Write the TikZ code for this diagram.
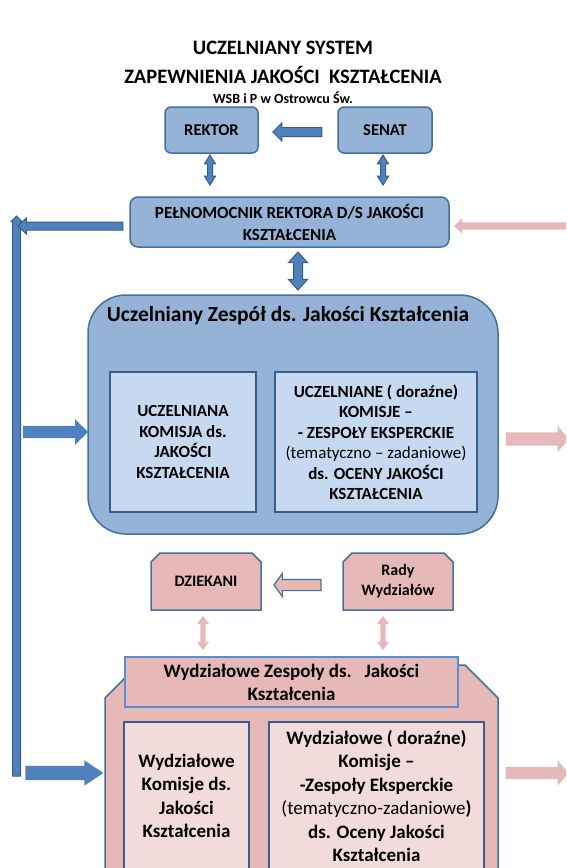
\documentclass[tikz,border=0pt]{standalone}
\usepackage{fontspec}
\setmainfont{Carlito}
\usetikzlibrary{shapes.arrows,calc,backgrounds}
\definecolor{blfill}{HTML}{95B3D7}
\definecolor{bledge}{HTML}{41719C}
\definecolor{bllight}{HTML}{C6D9F1}
\definecolor{blarrow}{HTML}{4F81BD}
\definecolor{bldark}{HTML}{385D8A}
\definecolor{pkfill}{HTML}{E6B9B8}
\definecolor{pklight}{HTML}{F2DCDB}
\definecolor{pkedge}{HTML}{558ED5}
\tikzset{
  ttl/.style={font=\bfseries\fontsize{20.5}{24}\selectfont},
  topbox/.style={draw=bledge, line width=1.5pt, fill=blfill, rounded corners=6pt, align=center, font=\bfseries\fontsize{16.5}{20}\selectfont},
  inblue/.style={draw=bldark, line width=1.5pt, fill=bllight, align=center, font=\bfseries\fontsize{17}{20.5}\selectfont},
  pinktxt/.style={align=center, font=\bfseries\fontsize{16}{20}\selectfont},
  pinkshape/.style={draw=bledge, line width=1.5pt, fill=pkfill, line join=round},
  inpink/.style={draw=bldark, line width=1.5pt, fill=pklight, align=center, font=\bfseries\fontsize{19}{23.5}\selectfont},
  barr/.style={single arrow, draw=bldark, line width=1pt, fill=blarrow},
  dbarr/.style={double arrow, draw=bldark, line width=1pt, fill=blarrow},
  flatarr/.style={single arrow, fill=blarrow},
  pkarr/.style={single arrow, fill=pkfill},
  pkdbarr/.style={double arrow, fill=pkfill}
}
% outline with the two top corners cut off, behind node #1
\newcommand\cutbox[2]{%
  \begin{scope}[on background layer]
  \path[pinkshape] ($(#1.north west)+(0,#2)$) -- ($(#1.north west)+(#2,0)$) -- ($(#1.north east)+(-#2,0)$)
    -- ($(#1.north east)+(0,#2)$) -- (#1.south east) -- (#1.south west) -- cycle;
  \end{scope}}
\begin{document}
\begin{tikzpicture}[x=1pt, y=-1pt, every node/.style={inner sep=0pt, outer sep=0pt}]
\clip (0,0) rectangle (566,868);
% title
\node[ttl] (ttla) at (283,48) {UCZELNIANY SYSTEM};
\node[ttl] (ttlb) at (283,75) {ZAPEWNIENIA JAKOŚCI\ \ KSZTAŁCENIA};
\node[font=\bfseries\fontsize{14}{16}\selectfont] (ttlc) at (283,98) {WSB i P w Ostrowcu Św.};

% rector level
\node[topbox, minimum width=93pt, minimum height=46pt] (rektor) at (211.5,130) {REKTOR};
\node[topbox, minimum width=94pt, minimum height=46pt] (senat) at (385,130) {SENAT};
\node[topbox, rounded corners=8pt, minimum width=319pt, minimum height=50pt, font=\bfseries\fontsize{17}{22}\selectfont] (pelnom) at (289.5,222) {PEŁNOMOCNIK REKTORA D/S JAKOŚCI\\KSZTAŁCENIA};
\node[barr, rotate=180, minimum height=49pt, inner sep=4pt, single arrow head extend=4.5pt, single arrow tip angle=90] (senrek) at (299.5,132) {};
\foreach \x in {210,383}
  \node[dbarr, rotate=90, minimum height=30pt, inner sep=2pt, double arrow head extend=3pt, double arrow tip angle=64] (dp\x) at (\x,170) {};
\node[dbarr, rotate=90, minimum height=38pt, inner sep=4pt, double arrow head extend=5pt, double arrow tip angle=84] (pelzes) at (298,271) {};

% university team
\node[draw=bledge, line width=1.5pt, fill=blfill, rounded corners=38pt, minimum width=410pt, minimum height=239pt] (uzes) at (293,414.5) {};
\node[font=\bfseries\fontsize{21.5}{24}\selectfont] (uztitle) at (288,316) {Uczelniany Zespół ds. Jakości Kształcenia};
\node[inblue, minimum width=146pt, minimum height=140pt] (ukom) at (183,442) {UCZELNIANA\\KOMISJA ds.\\JAKOŚCI\\KSZTAŁCENIA};
\node[inblue, minimum width=202pt, minimum height=140pt] (uekspert) at (376,442) {UCZELNIANE ( doraźne)\\KOMISJE --\\- ZESPOŁY EKSPERCKIE\\{\mdseries(tematyczno -- zadaniowe)}\\ds. OCENY JAKOŚCI\\KSZTAŁCENIA};

% deans level
\node[pinktxt, minimum width=110pt, minimum height=57pt] (dziekani) at (206,581.5) {DZIEKANI};
\node[pinktxt, minimum width=110pt, minimum height=57pt] (rady) at (398,581.5) {Rady\\Wydziałów};
\cutbox{dziekani}{9}
\cutbox{rady}{9}
\node[single arrow, draw=bledge, line width=1.2pt, fill=pkfill, rotate=180, minimum height=47pt, inner sep=5pt, single arrow head extend=6pt, single arrow tip angle=108] (radydz) at (299.5,585) {};
\foreach \x in {203,383}
  \node[pkdbarr, rotate=90, minimum height=34pt, inner sep=2.5pt, double arrow head extend=3.5pt, double arrow tip angle=74] (dw\x) at (\x,633) {};

% faculty teams
\node[minimum width=393pt, minimum height=250pt] (wzes) at (301.5,790) {};
\cutbox{wzes}{33}
\node[draw=pkedge, line width=1.5pt, fill=pkfill, minimum width=333pt, minimum height=50pt, align=center, font=\bfseries\fontsize{19}{23}\selectfont] (wztitle) at (291.5,682) {Wydziałowe Zespoły ds.\ \ \ Jakości\\Kształcenia};
\node[inpink, minimum width=125pt, minimum height=148pt] (wkom) at (186.5,796) {Wydziałowe\\Komisje ds.\\Jakości\\Kształcenia};
\node[inpink, minimum width=215pt, minimum height=148pt] (wekspert) at (376.5,796) {Wydziałowe ( doraźne)\\Komisje --\\-Zespoły Eksperckie\\{\mdseries(tematyczno-zadaniowe})\\ds. Oceny Jakości\\Kształcenia};

% side arrows
\node[barr, rotate=90, minimum height=560pt, inner sep=3.5pt, single arrow head extend=1.5pt, single arrow tip angle=90] (bar) at (16.5,498) {};
\node[barr, rotate=180, minimum height=105pt, inner sep=3.5pt, single arrow head extend=4pt, single arrow tip angle=86] (pelbar) at (72.5,226) {};
\node[flatarr, minimum height=65pt, inner sep=6pt, single arrow head extend=6.5pt, single arrow tip angle=88] (baruz) at (52.5,432) {};
\node[flatarr, minimum height=78pt, inner sep=7pt, single arrow head extend=5.5pt, single arrow tip angle=67] (barwz) at (59,773) {};
\node[pkarr, rotate=180, minimum height=124pt, inner sep=3.5pt, single arrow head extend=4pt, single arrow tip angle=86] (inpel) at (518,226) {};
\node[pkarr, minimum height=63pt, inner sep=6.5pt, single arrow head extend=6.5pt, single arrow tip angle=99] (outuz) at (534.5,439) {};
\node[pkarr, minimum height=63pt, inner sep=6pt, single arrow head extend=6.5pt, single arrow tip angle=97] (outwz) at (534.5,773) {};
\end{tikzpicture}
\end{document}
